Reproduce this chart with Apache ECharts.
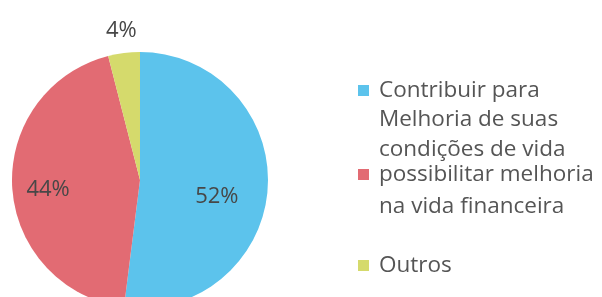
<!doctype html>
<html>
<head>
    <meta charset="utf-8">
    <title>pie</title>
    <script src="https://cdn.jsdelivr.net/npm/echarts@6/dist/echarts.min.js"></script>
    <style>
        html, body { margin: 0; padding: 0; background: #fff; }
        #chart { width: 602px; height: 297px; }
    </style>
</head>
<body>
<div id="chart"></div>
<script>
    // dados
    var categorias = ['Contribuir para Melhoria de suas condições de vida', 'possibilitar melhoria na vida financeira', 'Outros'];
    var valores = [52, 44, 4];
    var cores = ['#5cc3ec', '#e26b73', '#d5da6c'];
    // linhas da legenda (texto quebrado como no original)
    var linhasLegenda = [
        ['Contribuir para', 'Melhoria de suas', 'condições de vida'],
        ['possibilitar melhoria', 'na vida financeira'],
        ['Outros']
    ];

    var myChart = echarts.init(document.getElementById('chart'));

    var fonte = '"Open Sans", "Noto Sans", sans-serif';
    var tamLegenda = 22.5;
    // centro vertical de cada linha da legenda
    var linhaY = [[88, 120, 150], [172, 207], [263]];

    var legends = categorias.map(function (nome, i) {
        return {
            data: [nome],
            orient: 'vertical',
            left: 353,
            top: linhaY[i][0] - 14,
            icon: 'rect',
            itemWidth: 11,
            itemHeight: 11,
            selectedMode: false,
            formatter: function () { return linhasLegenda[i][0]; },
            textStyle: { fontFamily: fonte, fontSize: tamLegenda, color: '#555', padding: [0, 0, 0, 5] }
        };
    });

    var extraTexts = [];
    linhasLegenda.forEach(function (linhas, i) {
        for (var k = 1; k < linhas.length; k++) {
            extraTexts.push({
                type: 'text',
                x: 379,
                y: linhaY[i][k],
                style: { text: linhas[k], font: tamLegenda + 'px ' + fonte, fill: '#555', verticalAlign: 'middle' }
            });
        }
    });

    var dados = categorias.map(function (nome, i) {
        var item = { name: nome, value: valores[i], itemStyle: { color: cores[i] } };
        if (i === 2) {
            item.label = { position: 'outside' };
            item.labelLine = { show: false, length: 10, length2: 0 };
        }
        return item;
    });

    var deslocLabel = [[10, 13], [-25, 6], [19, -12]];

    var option = {
        animation: false,
        legend: legends,
        graphic: extraTexts,
        series: [{
            type: 'pie',
            center: [140, 180],
            radius: 128,
            startAngle: 90,
            clockwise: true,
            data: dados,
            label: {
                show: true,
                position: 'inside',
                formatter: '{c}%',
                fontFamily: fonte,
                fontSize: 22,
                color: '#474747'
            },
            labelLine: { show: false },
            labelLayout: function (params) {
                var d = deslocLabel[params.dataIndex];
                return { dx: d[0], dy: d[1] };
            },
            emphasis: { disabled: true }
        }]
    };
    myChart.setOption(option);
</script>
</body>
</html>
